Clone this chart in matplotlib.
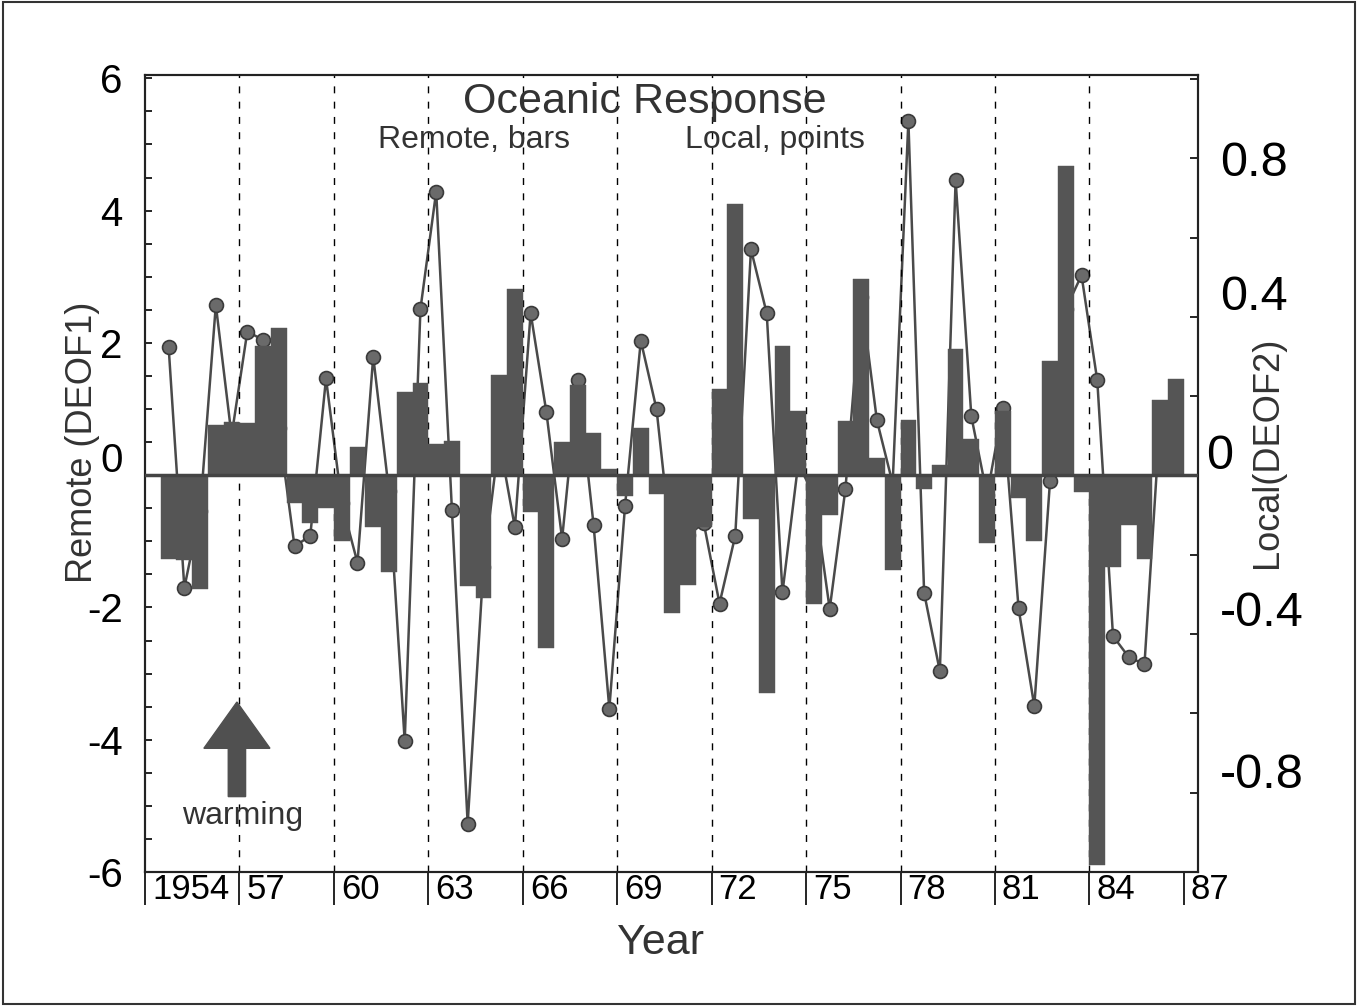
import numpy as np
import matplotlib
matplotlib.use("Agg")
import matplotlib.pyplot as plt
from matplotlib.patches import FancyArrow, Rectangle
from matplotlib.transforms import ScaledTranslation

plt.rcParams['font.family'] = ['Liberation Sans', 'DejaVu Sans']

# half-year seasons, 1954.5 .. 1987
season_time = np.arange(1954.75, 1987, 0.5)

# remote response (DEOF1), bars, left axis
remote = [
    -1.27, -1.29, -1.72, 0.76, 0.81, 0.79, 1.95, 2.22, -0.42, -0.72,
    -0.50, -1.00, 0.43, -0.79, -1.47, 1.25, 1.39, 0.47, 0.51, -1.68,
    -1.86, 1.52, 2.81, -0.56, -2.61, 0.50, 1.37, 0.63, 0.09, -0.32,
    0.72, -0.28, -2.09, -1.66, -0.79, 1.30, 4.10, -0.66, -3.29, 1.96,
    0.97, -1.95, -0.61, 0.82, 2.96, 0.26, -1.43, 0.83, -0.21, 0.15,
    1.91, 0.54, -1.02, 0.97, -0.35, -0.99, 1.72, 4.67, -0.26, -5.89,
    -1.39, -0.76, -1.27, 1.14, 1.46]

# local response (DEOF2), points, right axis
local = [
    0.325, -0.283, -0.09, 0.43, 0.10, 0.363, 0.342, 0.12, -0.179, -0.152,
    0.245, -0.07, -0.22, 0.30, -0.04, -0.67, 0.42, 0.716, -0.087, -0.878,
    -0.23, 0.09, -0.131, 0.41, 0.16, -0.16, 0.24, -0.125, -0.588, -0.076,
    0.34, 0.167, -0.20, -0.15, -0.12, -0.323, -0.152, 0.57, 0.409, -0.295,
    0.03, -0.05, -0.337, -0.034, 0.45, 0.139, -0.02, 0.894, -0.296, -0.494,
    0.745, 0.149, -0.05, 0.17, -0.335, -0.582, -0.013, 0.42, 0.505, 0.24,
    -0.405, -0.458, -0.476, 0.15]

year_ticks = [1954, 1957, 1960, 1963, 1966, 1969, 1972, 1975, 1978, 1981, 1984, 1987]
year_labels = ['1954', '57', '60', '63', '66', '69', '72', '75', '78', '81', '84', '87']
left_ticks = [-6, -4, -2, 0, 2, 4, 6]
right_ticks = [-0.8, -0.4, 0, 0.4, 0.8]
right_labels = ['-0.8', '-0.4', '0', '0.4', '0.8']

bar_color = '#555555'
line_color = '#4a4a4a'

fig = plt.figure(figsize=(13.58, 10.06), dpi=100)
ax = fig.add_axes([145 / 1358, 1 - 872 / 1006, 1053 / 1358, 797 / 1006])
ax2 = ax.twinx()

# bars on left axis, drawn above the line of the right axis
ax.set_zorder(ax2.get_zorder() + 1)
ax.patch.set_visible(False)

for yr in year_ticks[1:-1]:
    ax.axvline(yr, color='black', lw=1.0, ls=(0, (5, 6)), zorder=1)
ax.bar(season_time, remote, width=0.5, color=bar_color, edgecolor=bar_color,
       linewidth=0.3, zorder=3)
ax.axhline(0, color='#444444', lw=2.5, zorder=4)

ax2.plot(season_time[:len(local)], local, '-o', color=line_color, lw=1.8,
         ms=10, mfc='#6a6a6a', mec='#3a3a3a', mew=1.2)

ax.set_xlim(1954, 1987.45)
ax.set_ylim(-6, 6.05)
ax2.set_ylim(-1, 1.01)

ax.set_yticks(left_ticks)
ax.set_yticklabels([str(v) for v in left_ticks])
ax.set_yticks(np.arange(-6, 6.01, 0.5), minor=True)
ax.tick_params(axis='y', which='both', direction='in', length=5, width=1.2,
               labelsize=29, pad=16)
ax2.set_yticks(np.arange(-1, 1.01, 0.2), minor=True)
ax2.set_yticks(right_ticks)
ax2.set_yticklabels(right_labels)
ax2.tick_params(axis='y', which='both', direction='in', length=6, width=1.2,
                labelsize=35, pad=16)


def nudge(label, dx, dy):
    # shift a tick label by (dx, dy) pixels, as the hand-set labels of the original
    label.set_transform(label.get_transform() +
                        ScaledTranslation(dx / 100, dy / 100, fig.dpi_scale_trans))


# the zero labels sit a little above the zero line in the original
nudge(ax.get_yticklabels()[3], 0, 18)
for lab, (dx, dy) in zip(ax2.get_yticklabels(),
                         [(0, 22), (0, 26), (-14, 24), (0, 24), (0, 0)]):
    nudge(lab, dx, dy)

ax.set_xticks(year_ticks)
ax.set_xticklabels(year_labels)
ax.tick_params(axis='x', direction='out', length=24, width=1.2, labelsize=25, pad=-23)
for lab in ax.get_xticklabels():
    lab.set_ha('left')
    nudge(lab, 7, 0)

for a in (ax, ax2):
    for s in a.spines.values():
        s.set_linewidth(1.5)
        s.set_color('#222222')

# warming arrow
ax.add_patch(FancyArrow(1956.92, -4.86, 0, 1.43, width=0.55, head_width=2.1,
                        head_length=0.7, length_includes_head=True,
                        color='#505050', zorder=5))
ax.text(1957.1, -5.15, 'warming', ha='center', va='center', fontsize=23, color='#333333')

fig.text(645 / 1358, 1 - 102 / 1006, 'Oceanic Response', ha='center', va='center',
         fontsize=31, color='#333333')
fig.text(474 / 1358, 1 - 140 / 1006, 'Remote, bars', ha='center', va='center',
         fontsize=23, color='#333333')
fig.text(775 / 1358, 1 - 140 / 1006, 'Local, points', ha='center', va='center',
         fontsize=23, color='#333333')
fig.text(83 / 1358, 1 - 442 / 1006, 'Remote (DEOF1)', rotation=90, ha='center',
         va='center', fontsize=26, color='#333333')
fig.text(1267 / 1358, 1 - 452 / 1006, 'Local(DEOF2)', rotation=90, ha='center',
         va='center', fontsize=26, color='#333333')
fig.text(660 / 1358, 1 - 943 / 1006, 'Year', ha='center', va='center',
         fontsize=31, color='#333333')

fig.add_artist(Rectangle((0.002, 0.002), 0.996, 0.996, transform=fig.transFigure,
                         fill=False, lw=1.5, ec='#333333'))

fig.savefig('out.png', dpi=100)
